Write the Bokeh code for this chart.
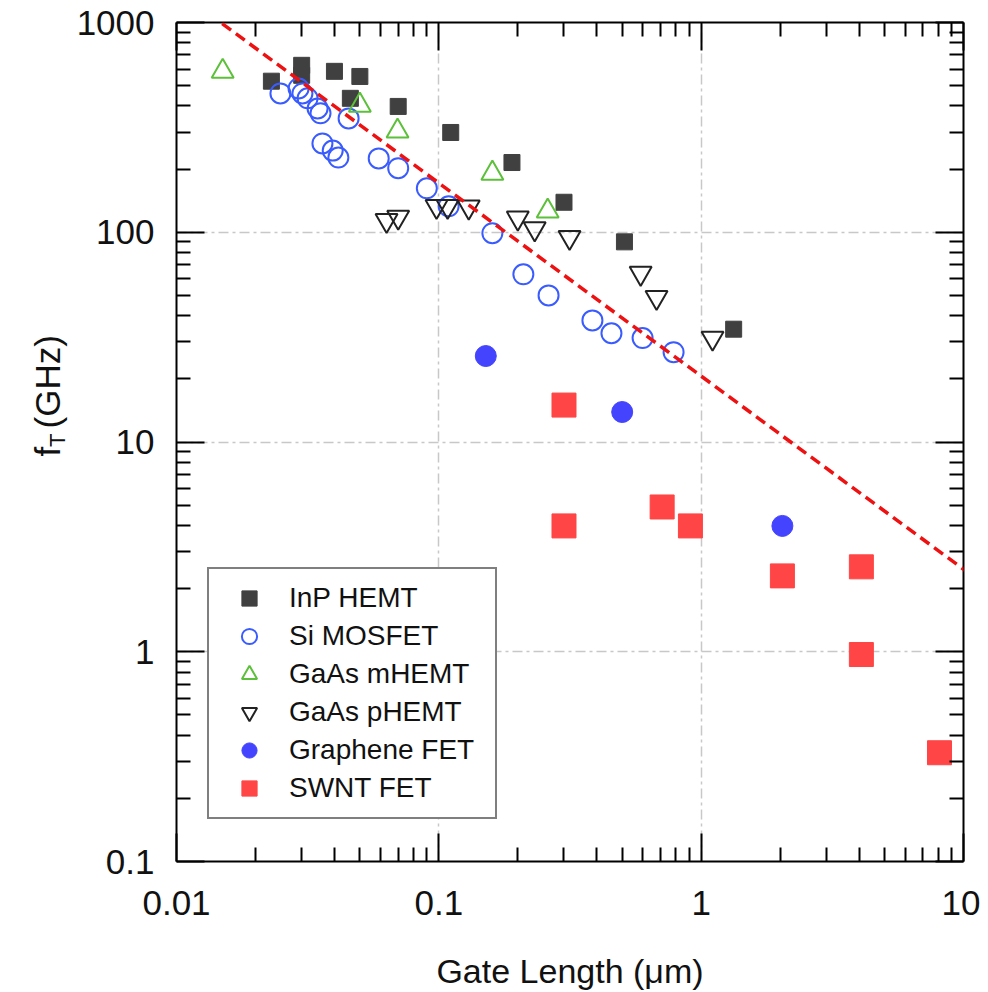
import math
from bokeh.plotting import figure
from bokeh.layouts import row
from bokeh.models import (LogAxis, FixedTicker, CustomJSTickFormatter, Legend,
                          LegendItem, Arrow, Range1d)
from bokeh.core.properties import value
from bokeh.embed import file_html
from bokeh.resources import INLINE

# ---------------- data ----------------
inp_x = [0.023, 0.030, 0.030, 0.040, 0.050, 0.046, 0.070, 0.111, 0.19, 0.30, 0.51, 1.33]
inp_y = [525, 625, 560, 585, 553, 435, 398, 299, 215, 139, 90, 34.5]

si_x = [0.0249, 0.0292, 0.0302, 0.0316, 0.0345, 0.0354, 0.0453, 0.036, 0.0394, 0.0414,
        0.059, 0.070, 0.090, 0.109, 0.160, 0.210, 0.262, 0.385, 0.455, 0.598, 0.785]
si_y = [459, 485, 459, 435, 389, 369, 349, 265, 245, 227,
        225, 202, 162, 133, 99, 63, 50, 38, 33, 31.3, 26.8]

mhemt_x = [0.0150, 0.050, 0.0696, 0.160, 0.260]
mhemt_y = [585, 403, 303, 191, 126]

phemt_x = [0.0632, 0.070, 0.098, 0.108, 0.130, 0.200, 0.232, 0.315, 0.588, 0.676, 1.105]
phemt_y = [114, 118, 133, 133, 132, 117, 104, 94.6, 63.8, 49, 31.3]

graphene_x = [0.151, 0.50, 2.04]
graphene_y = [25.7, 13.9, 3.98]

swnt_x = [0.30, 0.30, 0.71, 0.91, 2.04, 4.08, 4.08, 8.1]
swnt_y = [15, 3.98, 4.9, 3.98, 2.3, 2.54, 0.97, 0.33]

trend_x = [0.01324, 12.47]
trend_y = [1104, 2.02]

x_ticks = [0.01, 0.1, 1, 10]
x_tick_labels = ["0.01", "0.1", "1", "10"]
y_ticks = [0.1, 1, 10, 100, 1000]
y_tick_labels = ["0.1", "1", "10", "100", "1000"]

series_names = ["InP HEMT", "Si MOSFET", "GaAs mHEMT", "GaAs pHEMT", "Graphene FET", "SWNT FET"]

y_title_parts = ["f", "T", "(GHz)"]
x_title = "Gate Length (μm)"

FONT = "Liberation Sans"
TXT = "#111111"

# ---------------- layout sizes ----------------
TOTAL_W, TOTAL_H = 980, 992
LW = 70                      # narrow strip holding the y-axis title

# ---------------- main figure ----------------
p = figure(width=TOTAL_W - LW, height=TOTAL_H, x_axis_type="log", y_axis_type="log",
           x_range=Range1d(0.01, 10), y_range=Range1d(0.1, 1000),
           output_backend="svg", toolbar_location=None,
           min_border_left=176 - LW, min_border_right=17,
           min_border_top=22, min_border_bottom=130)
p.outline_line_color = None
p.background_fill_color = "white"
p.border_fill_color = "white"

p.add_layout(LogAxis(), "above")
p.add_layout(LogAxis(), "right")


def minors(tks):
    out = []
    for t in tks[:-1]:
        out += [t * k for k in range(2, 10)]
    return out


def fmt(tks, labels):
    return CustomJSTickFormatter(args=dict(tvals=tks, tlabs=labels), code="""
        for (let i = 0; i < tvals.length; i++) {
            if (Math.abs(Math.log10(tvals[i]) - Math.log10(tick)) < 1e-6) return tlabs[i];
        }
        return '';
    """)


blank = CustomJSTickFormatter(code="return '';")

for ax in p.xaxis:
    ax.ticker = FixedTicker(ticks=x_ticks, minor_ticks=minors(x_ticks))
for ax in p.yaxis:
    ax.ticker = FixedTicker(ticks=y_ticks, minor_ticks=minors(y_ticks))

for ax in p.xaxis + p.yaxis:
    ax.axis_line_width = 2
    ax.axis_line_color = "black"
    ax.major_tick_in = 28
    ax.major_tick_out = 0
    ax.minor_tick_in = 14
    ax.minor_tick_out = 0
    ax.major_tick_line_width = 2
    ax.minor_tick_line_width = 2
    ax.major_tick_line_color = "black"
    ax.minor_tick_line_color = "black"
    ax.major_label_text_font = FONT
    ax.major_label_text_color = TXT

p.below[0].formatter = fmt(x_ticks, x_tick_labels)
p.left[0].formatter = fmt(y_ticks, y_tick_labels)
for ax in (p.above[0], p.right[0]):
    ax.formatter = blank
    ax.major_label_text_font_size = "1px"
    ax.major_label_standoff = 0

p.below[0].major_label_text_font_size = "35px"
p.left[0].major_label_text_font_size = "35px"
p.below[0].major_label_standoff = 29
p.left[0].major_label_standoff = 22

p.below[0].axis_label = x_title
p.below[0].axis_label_text_font = FONT
p.below[0].axis_label_text_font_style = "normal"
p.below[0].axis_label_text_font_size = "34px"
p.below[0].axis_label_text_color = TXT
p.below[0].axis_label_standoff = 34

p.xgrid.ticker = FixedTicker(ticks=x_ticks)
p.ygrid.ticker = FixedTicker(ticks=y_ticks)
for g in (p.xgrid, p.ygrid):
    g.grid_line_color = "#c8c8c8"
    g.grid_line_width = 1.5
    g.grid_line_dash = "10 4 3 4"

# ---------------- series ----------------
r_inp = p.scatter(inp_x, inp_y, marker="square", size=16,
                  fill_color="#404040", line_color="#404040")
r_si = p.scatter(si_x, si_y, marker="circle", size=20, fill_color=None,
                 line_color="#3a5cff", line_width=2)
r_mh = p.scatter(mhemt_x, mhemt_y, marker="triangle", size=22, fill_color=None,
                 line_color="#5cc03a", line_width=2)
r_ph = p.scatter(phemt_x, phemt_y, marker="inverted_triangle", size=22, fill_color=None,
                 line_color="#222222", line_width=2)
r_gr = p.scatter(graphene_x, graphene_y, marker="circle", size=21,
                 fill_color="#4444ff", line_color="#4444ff")
r_sw = p.scatter(swnt_x, swnt_y, marker="square", size=24,
                 fill_color="#ff4545", line_color="#ff4545")

trend = Arrow(x_start=trend_x[0], y_start=trend_y[0], x_end=trend_x[1], y_end=trend_y[1],
              start=None, end=None, line_color="#ee1111", line_width=3.5,
              line_dash="11 6")
p.add_layout(trend)

legend = Legend(items=[LegendItem(label=n, renderers=[r]) for n, r in
                       zip(series_names, [r_inp, r_si, r_mh, r_ph, r_gr, r_sw])],
                location=(31, 42), padding=10, spacing=0,
                glyph_width=60, glyph_height=38, label_height=38,
                label_standoff=10, label_width=196,
                label_text_font=FONT, label_text_font_size="28px",
                label_text_color=TXT, label_text_baseline="middle",
                border_line_color="black", border_line_width=2,
                background_fill_color="white", background_fill_alpha=1.0)
p.add_layout(legend)

# ---------------- y-axis title strip: "f_T (GHz)" rotated ----------------
fy = figure(width=LW, height=TOTAL_H, x_range=Range1d(0, LW), y_range=Range1d(0, TOTAL_H),
            x_axis_type=None, y_axis_type=None, output_backend="svg",
            toolbar_location=None, min_border=0)
fy.outline_line_color = None
fy.background_fill_color = "white"
fy.border_fill_color = "white"

# positions in the strip's own pixel space (x from left, y from top of page)
title_pos = [(47, 513, "35px"), (57, 502, "22px"), (47, 480, "35px")]
for txt, (bx, by, fs) in zip(y_title_parts, title_pos):
    fy.text(x=[bx], y=[TOTAL_H - by], text=[txt], angle=math.pi / 2,
            text_font=value(FONT), text_font_size=value(fs), text_color=TXT,
            text_align="left", text_baseline="alphabetic")

layout = row(fy, p)
open("out.html", "w").write(file_html(layout, INLINE))
